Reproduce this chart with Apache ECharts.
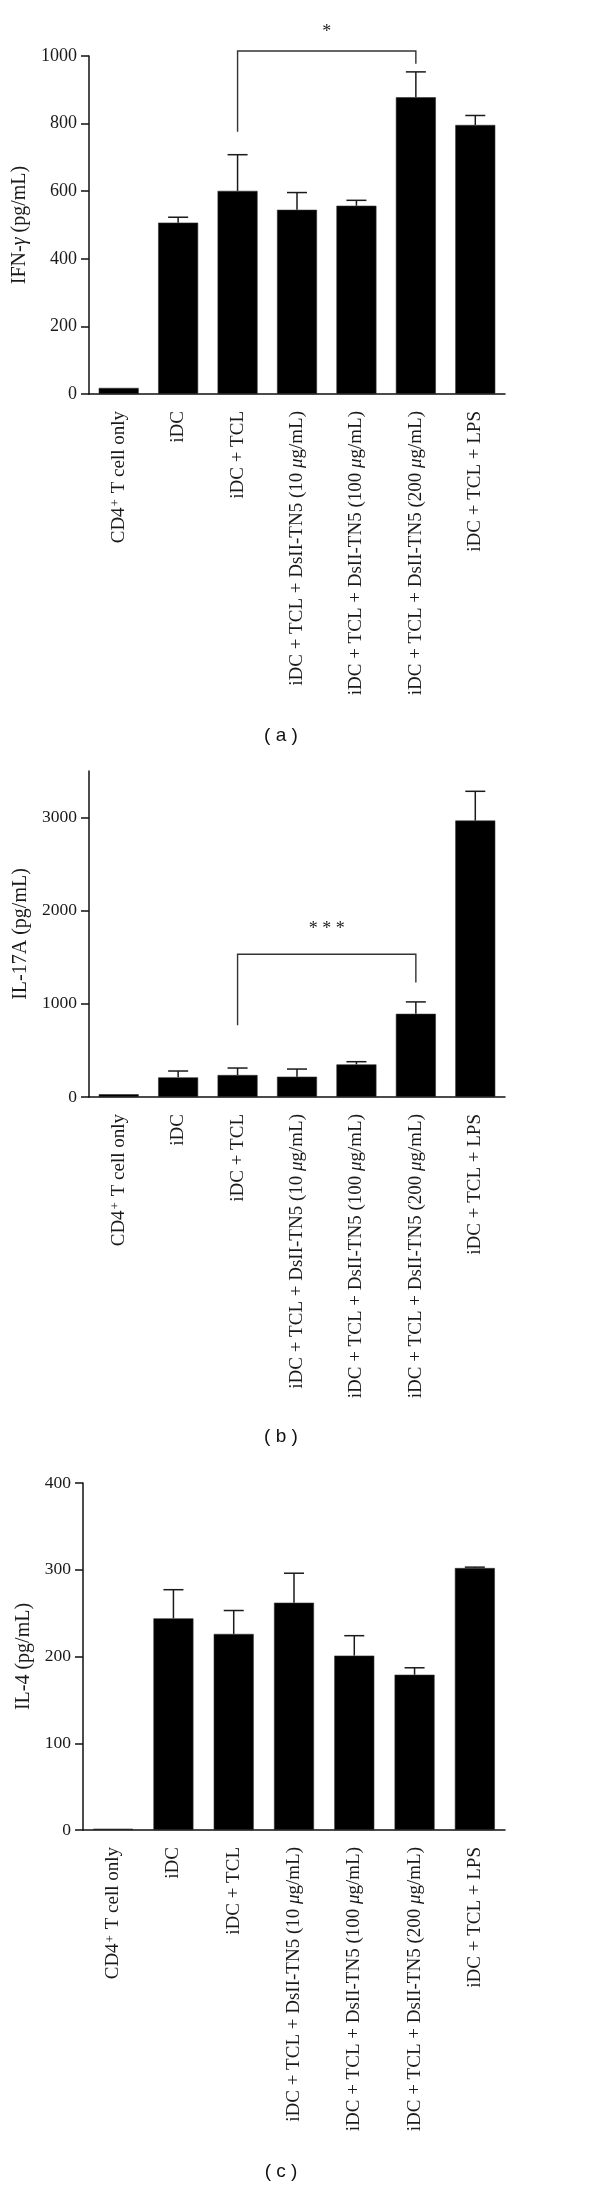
<!DOCTYPE html>
<html><head><meta charset="utf-8">
<script src="https://cdn.jsdelivr.net/npm/echarts@6/dist/echarts.min.js"></script>
<style>html,body{margin:0;padding:0;background:#fff}#c{width:600px;height:2190px}</style>
</head><body><div id="c"></div>
<script>
// ---- data ----
const categories = [
  'CD4+ T cell only',
  'iDC',
  'iDC + TCL',
  'iDC + TCL + DsII-TN5 (10 μg/mL)',
  'iDC + TCL + DsII-TN5 (100 μg/mL)',
  'iDC + TCL + DsII-TN5 (200 μg/mL)',
  'iDC + TCL + LPS'
];
// (a) IFN-gamma
const ifnMean = [18, 507, 601, 545, 557, 878, 796];
const ifnSem  = [0, 16, 107, 51, 16, 75, 28];
const ifnTicks = [0, 200, 400, 600, 800, 1000];
const ifnSig = [2, 5, 1015, 776, 977, 1071]; // from, to, bracket top, left end, right end, label level
// (b) IL-17A
const il17Mean = [30, 211, 236, 218, 350, 893, 2968];
const il17Sem  = [0, 68, 75, 82, 29, 128, 314];
const il17Ticks = [0, 1000, 2000, 3000];
const il17Sig = [2, 5, 1532, 771, 1229, 1796];
// (c) IL-4
const il4Mean = [1.5, 244, 226, 262, 201, 179, 302];
const il4Sem  = [0, 33, 27, 34, 23, 8, 1];
const il4Ticks = [0, 100, 200, 300, 400];

const SERIF = '"Liberation Serif", "Times New Roman", serif';
const SANS = '"Liberation Sans", Arial, sans-serif';
const TXT = '#1a1a1a';

function catFmt(v) {
  if (v.indexOf('CD4+') === 0) return '{t|CD4}{sup|+}{t|' + v.slice(4) + '}';
  const k = v.indexOf('μ');
  if (k >= 0) return '{t|' + v.slice(0, k) + '}{i|μ}{t|' + v.slice(k + 1) + '}';
  return '{t|' + v + '}';
}

function makeAxes(gi, max, interval, ticks, nameRich, nameGap, labelSize) {
  const x = {
    type: 'category', gridIndex: gi, data: categories,
    axisLine: {lineStyle: {color: '#111', width: 1.5}},
    axisTick: {alignWithLabel: true, length: 9, lineStyle: {color: '#111', width: 1.5}},
    axisLabel: {
      rotate: 90, margin: 17, interval: 0,
      fontFamily: SERIF, fontSize: 19, color: TXT,
      formatter: catFmt,
      rich: {
        t: {fontFamily: SERIF, fontSize: 19, color: TXT},
        i: {fontFamily: SERIF, fontSize: 19, color: TXT, fontStyle: 'italic'},
        sup: {fontFamily: SERIF, fontSize: 13, color: TXT, verticalAlign: 'top', padding: [0, 1, 6, 1]}
      }
    }
  };
  const y = {
    type: 'value', gridIndex: gi, min: 0, max: max, interval: interval,
    splitLine: {show: false},
    axisLine: {show: true, lineStyle: {color: '#111', width: 1.5}},
    axisTick: {show: true, length: 8, lineStyle: {color: '#111', width: 1.5}, customValues: ticks},
    axisLabel: {fontFamily: SERIF, fontSize: labelSize, color: TXT, margin: 12, customValues: ticks,
                formatter: function (v) { return String(v); }},
    name: nameRich, nameLocation: 'middle', nameGap: nameGap,
    nameTextStyle: {
      fontFamily: SERIF, fontSize: 20, color: TXT,
      rich: {
        n: {fontFamily: SERIF, fontSize: 20, color: TXT},
        g: {fontFamily: SERIF, fontSize: 20, color: TXT, fontStyle: 'italic'}
      }
    }
  };
  return [x, y];
}

function barSeries(gi, means) {
  return {
    type: 'bar', xAxisIndex: gi, yAxisIndex: gi, data: means, barWidth: 40,
    itemStyle: {color: '#000', borderColor: '#333', borderWidth: 0.6}, z: 2
  };
}
function errSeries(gi, means, sems) {
  return {
    type: 'custom', xAxisIndex: gi, yAxisIndex: gi, z: 3, clip: false,
    data: means.map((m, i) => [i, m, m + sems[i]]),
    renderItem: function (params, api) {
      if (api.value(2) <= api.value(1)) return null;
      const b = api.coord([api.value(0), api.value(1)]);
      const t = api.coord([api.value(0), api.value(2)]);
      const st = {stroke: '#1a1a1a', lineWidth: 1.5};
      return {type: 'group', children: [
        {type: 'line', shape: {x1: b[0], y1: b[1], x2: t[0], y2: t[1]}, style: st},
        {type: 'line', shape: {x1: t[0] - 10, y1: t[1], x2: t[0] + 10, y2: t[1]}, style: st}
      ]};
    }
  };
}
function sigSeries(gi, sig, label) {
  return {
    type: 'custom', xAxisIndex: gi, yAxisIndex: gi, z: 4, clip: false,
    data: [sig],
    renderItem: function (params, api) {
      const f = api.value(0), t = api.value(1);
      const pL = api.coord([f, api.value(3)]);
      const pLT = api.coord([f, api.value(2)]);
      const pRT = api.coord([t, api.value(2)]);
      const pR = api.coord([t, api.value(4)]);
      const lab = api.coord([f, api.value(5)]);
      return {type: 'group', children: [
        {type: 'polyline', shape: {points: [pL, pLT, pRT, pR]}, style: {stroke: '#333', lineWidth: 1.4, fill: null}},
        {type: 'text', x: (pLT[0] + pRT[0]) / 2, y: lab[1], style: {text: label, fontFamily: SERIF, fontSize: 18, fill: '#222', align: 'center', verticalAlign: 'middle'}}
      ]};
    }
  };
}

const A = makeAxes(0, 1000, 200, ifnTicks, '{n|IFN-}{g|γ}{n| (pg/mL)}', 46, 18);
const B = makeAxes(1, 3500, 500, il17Ticks, '{n|IL-17A (pg/mL)}', 46, 17.5);
const C = makeAxes(2, 400, 100, il4Ticks, '{n|IL-4 (pg/mL)}', 40, 17.5);

const chart = echarts.init(document.getElementById('c'), null, {renderer: 'canvas'});
chart.setOption({
  animation: false,
  backgroundColor: '#fff',
  grid: [
    {left: 89, width: 416, top: 56, height: 338, outerBoundsMode: 'none'},
    {left: 89, width: 416, top: 771, height: 326, outerBoundsMode: 'none'},
    {left: 83, width: 422, top: 1483, height: 347, outerBoundsMode: 'none'}
  ],
  xAxis: [A[0], B[0], C[0]],
  yAxis: [A[1], B[1], C[1]],
  series: [
    barSeries(0, ifnMean), errSeries(0, ifnMean, ifnSem), sigSeries(0, ifnSig, '*'),
    barSeries(1, il17Mean), errSeries(1, il17Mean, il17Sem), sigSeries(1, il17Sig, '* * *'),
    barSeries(2, il4Mean), errSeries(2, il4Mean, il4Sem)
  ],
  graphic: [
    {type: 'text', x: 281, y: 736, style: {text: '( a )', fontFamily: SANS, fontSize: 19, fill: '#111', align: 'center', verticalAlign: 'middle'}},
    {type: 'text', x: 281, y: 1437, style: {text: '( b )', fontFamily: SANS, fontSize: 19, fill: '#111', align: 'center', verticalAlign: 'middle'}},
    {type: 'text', x: 281, y: 2172, style: {text: '( c )', fontFamily: SANS, fontSize: 19, fill: '#111', align: 'center', verticalAlign: 'middle'}}
  ]
});
</script>
</body></html>
